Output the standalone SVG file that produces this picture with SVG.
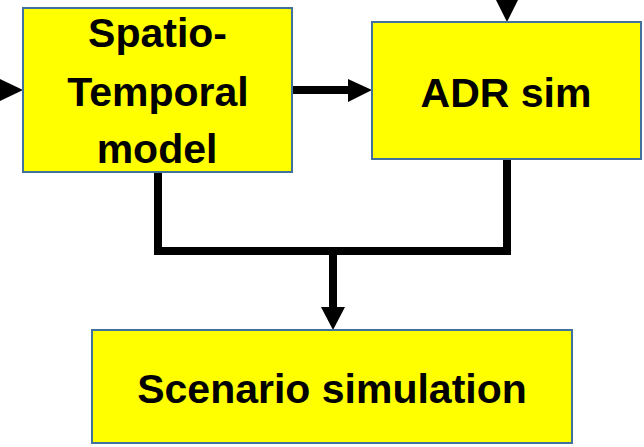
<svg xmlns="http://www.w3.org/2000/svg" width="644" height="447" viewBox="0 0 644 447">
<style>
.box{fill:#FFFF00;stroke:#41719C;stroke-width:2}
.lbl{font-family:"Liberation Sans",Arial,sans-serif;font-weight:bold;font-size:41px;fill:#000;text-anchor:middle}
.ln{fill:none;stroke:#000;stroke-width:8;stroke-linejoin:miter}
.ah{fill:#000}
</style>
<rect width="644" height="447" fill="#fff"/>
<g id="connectors">
<polygon class="ah" points="0,79 23,90 0,101"/>
<line class="ln" x1="292" y1="90" x2="350" y2="90"/>
<polygon class="ah" points="348,79 372,90 348,102"/>
<polygon class="ah" points="496,0 518,0 507,22"/>
<polyline class="ln" points="158,172 158,251 507,251 507,159"/>
<line class="ln" x1="333" y1="251" x2="333" y2="309"/>
<polygon class="ah" points="321,307 345,307 333,330"/>
</g>
<g id="spatio-temporal">
<rect class="box" x="23" y="8" width="269" height="164"/>
<text class="lbl" x="157.5" y="47">Spatio-</text>
<text class="lbl" x="158" y="106">Temporal</text>
<text class="lbl" x="157" y="163">model</text>
</g>
<g id="adr-sim">
<rect class="box" x="372" y="22" width="269" height="137"/>
<text class="lbl" x="506" y="107">ADR sim</text>
</g>
<g id="scenario">
<rect class="box" x="92" y="330" width="480" height="113"/>
<text class="lbl" x="332" y="403">Scenario simulation</text>
</g>
</svg>
